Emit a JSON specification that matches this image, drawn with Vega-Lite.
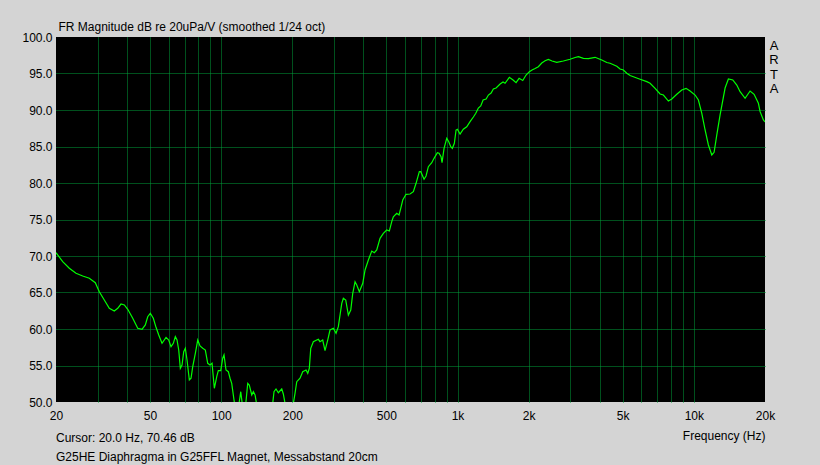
{
  "$schema": "https://vega.github.io/schema/vega-lite/v6.json",
  "description": "ARTA frequency response, G25HE diaphragm in G25FFL magnet, 20 cm distance.",
  "width": 709,
  "height": 365,
  "autosize": "none",
  "padding": {"left": 56, "top": 37, "right": 55, "bottom": 63},
  "background": "#d4d4d4",
  "config": {
    "view": {"fill": "#000000", "stroke": null},
    "font": "Liberation Sans"
  },
  "title": {
    "text": "Cursor: 20.0 Hz, 70.46 dB",
    "subtitle": "G25HE Diaphragma in G25FFL Magnet, Messabstand 20cm",
    "orient": "bottom",
    "anchor": "start",
    "frame": "group",
    "offset": -8,
    "fontSize": 12,
    "fontWeight": "normal",
    "color": "#000000",
    "subtitleFont": "Liberation Sans",
    "subtitleFontSize": 12,
    "subtitleColor": "#000000",
    "subtitlePadding": 7
  },
  "data": {
    "values": [
      {"freq": 20, "db": 70.46},
      {"freq": 21.35, "db": 69.22},
      {"freq": 22.77, "db": 68.32},
      {"freq": 24.3, "db": 67.63},
      {"freq": 25.95, "db": 67.26},
      {"freq": 27.67, "db": 66.95},
      {"freq": 29.33, "db": 66.34},
      {"freq": 30.5, "db": 65.11},
      {"freq": 32.02, "db": 63.97},
      {"freq": 33.62, "db": 62.84},
      {"freq": 35.3, "db": 62.47},
      {"freq": 36.49, "db": 62.84},
      {"freq": 37.68, "db": 63.42},
      {"freq": 38.92, "db": 63.29},
      {"freq": 40.23, "db": 62.7},
      {"freq": 42.24, "db": 61.47},
      {"freq": 44.35, "db": 60.1},
      {"freq": 46.24, "db": 59.96},
      {"freq": 47.75, "db": 60.55},
      {"freq": 48.88, "db": 61.68},
      {"freq": 50.13, "db": 62.15},
      {"freq": 51.62, "db": 61.47},
      {"freq": 53.0, "db": 60.23},
      {"freq": 54.41, "db": 59.18},
      {"freq": 56.19, "db": 58.04},
      {"freq": 58.43, "db": 58.86},
      {"freq": 59.98, "db": 58.49},
      {"freq": 61.34, "db": 57.58},
      {"freq": 62.73, "db": 58.04},
      {"freq": 63.97, "db": 58.95},
      {"freq": 65.03, "db": 58.49},
      {"freq": 66.12, "db": 57.12},
      {"freq": 67.16, "db": 54.62},
      {"freq": 68.28, "db": 55.07},
      {"freq": 69.42, "db": 56.89},
      {"freq": 70.51, "db": 57.36},
      {"freq": 71.69, "db": 55.75},
      {"freq": 73.32, "db": 53.01},
      {"freq": 74.54, "db": 53.25},
      {"freq": 75.79, "db": 54.84},
      {"freq": 77.73, "db": 56.67},
      {"freq": 79.57, "db": 58.49},
      {"freq": 81.37, "db": 57.67},
      {"freq": 83.54, "db": 57.36},
      {"freq": 85.68, "db": 57.12},
      {"freq": 87.71, "db": 55.3},
      {"freq": 89.7, "db": 55.07},
      {"freq": 91.47, "db": 55.3},
      {"freq": 93.54, "db": 51.88},
      {"freq": 95.76, "db": 53.47},
      {"freq": 97.24, "db": 54.29},
      {"freq": 99.55, "db": 54.29},
      {"freq": 101.5, "db": 55.99},
      {"freq": 102.8, "db": 56.44},
      {"freq": 104.8, "db": 54.38},
      {"freq": 107.2, "db": 54.15},
      {"freq": 109.0, "db": 53.25},
      {"freq": 110.8, "db": 52.56},
      {"freq": 113.3, "db": 50.27},
      {"freq": 116.1, "db": 48.0},
      {"freq": 119.0, "db": 49.8},
      {"freq": 121.0, "db": 51.41},
      {"freq": 122.5, "db": 50.0},
      {"freq": 125.6, "db": 48.0},
      {"freq": 129.5, "db": 52.56},
      {"freq": 131.5, "db": 52.33},
      {"freq": 134.7, "db": 50.96},
      {"freq": 136.8, "db": 51.41},
      {"freq": 139.1, "db": 50.96},
      {"freq": 141.1, "db": 49.8},
      {"freq": 151.8, "db": 47.0},
      {"freq": 165.2, "db": 49.8},
      {"freq": 167.3, "db": 51.41},
      {"freq": 170.6, "db": 51.78},
      {"freq": 174.5, "db": 51.27},
      {"freq": 180.4, "db": 51.78},
      {"freq": 183.2, "db": 51.1},
      {"freq": 186.3, "db": 49.8},
      {"freq": 193.7, "db": 47.5},
      {"freq": 202.0, "db": 49.8},
      {"freq": 205.3, "db": 51.19},
      {"freq": 208.8, "db": 52.78},
      {"freq": 215.6, "db": 53.25},
      {"freq": 221.3, "db": 54.15},
      {"freq": 228.6, "db": 54.38},
      {"freq": 232.4, "db": 53.93},
      {"freq": 236.0, "db": 54.62},
      {"freq": 239.3, "db": 57.36},
      {"freq": 245.4, "db": 58.26},
      {"freq": 253.7, "db": 58.49},
      {"freq": 257.7, "db": 58.59},
      {"freq": 261.9, "db": 58.26},
      {"freq": 268.9, "db": 58.49},
      {"freq": 275.0, "db": 57.03},
      {"freq": 282.3, "db": 58.49},
      {"freq": 288.7, "db": 59.86},
      {"freq": 298.2, "db": 60.1},
      {"freq": 306.2, "db": 59.41},
      {"freq": 313.1, "db": 60.32},
      {"freq": 323.7, "db": 63.52},
      {"freq": 328.8, "db": 64.21},
      {"freq": 336.5, "db": 63.97},
      {"freq": 345.2, "db": 61.92},
      {"freq": 353.4, "db": 62.6},
      {"freq": 360.3, "db": 64.89},
      {"freq": 368.5, "db": 66.48},
      {"freq": 374.6, "db": 66.03},
      {"freq": 384.2, "db": 65.11},
      {"freq": 397.2, "db": 66.26},
      {"freq": 406.2, "db": 68.08},
      {"freq": 419.5, "db": 69.45},
      {"freq": 433.6, "db": 70.68},
      {"freq": 444.7, "db": 70.45},
      {"freq": 455.2, "db": 70.82},
      {"freq": 470.1, "db": 72.42},
      {"freq": 485.5, "db": 73.11},
      {"freq": 501.8, "db": 73.56},
      {"freq": 514.6, "db": 73.42},
      {"freq": 526.8, "db": 74.7},
      {"freq": 535.1, "db": 75.38},
      {"freq": 553.1, "db": 75.85},
      {"freq": 565.6, "db": 75.62},
      {"freq": 575.1, "db": 76.53},
      {"freq": 586.5, "db": 77.67},
      {"freq": 605.6, "db": 78.45},
      {"freq": 629.7, "db": 78.49},
      {"freq": 650.3, "db": 78.81},
      {"freq": 667.6, "db": 79.96},
      {"freq": 689.4, "db": 81.55},
      {"freq": 698.9, "db": 81.55},
      {"freq": 721.7, "db": 80.51},
      {"freq": 735.9, "db": 80.96},
      {"freq": 752.6, "db": 82.23},
      {"freq": 777.9, "db": 82.78},
      {"freq": 795.5, "db": 83.38},
      {"freq": 821.5, "db": 84.15},
      {"freq": 835.3, "db": 84.07},
      {"freq": 851.7, "db": 83.6},
      {"freq": 860.0, "db": 82.78},
      {"freq": 877.0, "db": 84.75},
      {"freq": 900.4, "db": 86.12},
      {"freq": 918.1, "db": 85.66},
      {"freq": 936.2, "db": 84.97},
      {"freq": 950.9, "db": 84.75},
      {"freq": 969.6, "db": 85.44},
      {"freq": 985.8, "db": 87.26},
      {"freq": 998.4, "db": 87.36},
      {"freq": 1025, "db": 86.71},
      {"freq": 1058, "db": 87.36},
      {"freq": 1094, "db": 87.71},
      {"freq": 1130, "db": 88.4},
      {"freq": 1167, "db": 89.04},
      {"freq": 1195, "db": 89.55},
      {"freq": 1225, "db": 90.27},
      {"freq": 1254, "db": 90.55},
      {"freq": 1283, "db": 91.37},
      {"freq": 1321, "db": 91.51},
      {"freq": 1351, "db": 92.05},
      {"freq": 1387, "db": 92.33},
      {"freq": 1418, "db": 92.88},
      {"freq": 1456, "db": 93.01},
      {"freq": 1514, "db": 93.56},
      {"freq": 1558, "db": 93.84},
      {"freq": 1589, "db": 93.66},
      {"freq": 1657, "db": 94.48},
      {"freq": 1718, "db": 94.11},
      {"freq": 1769, "db": 93.74},
      {"freq": 1822, "db": 94.34},
      {"freq": 1888, "db": 94.04},
      {"freq": 1950, "db": 94.79},
      {"freq": 2014, "db": 95.25},
      {"freq": 2067, "db": 95.48},
      {"freq": 2129, "db": 95.68},
      {"freq": 2198, "db": 95.93},
      {"freq": 2272, "db": 96.44},
      {"freq": 2347, "db": 96.75},
      {"freq": 2423, "db": 96.92},
      {"freq": 2512, "db": 96.71},
      {"freq": 2630, "db": 96.53},
      {"freq": 2805, "db": 96.71},
      {"freq": 2994, "db": 96.95},
      {"freq": 3144, "db": 97.19},
      {"freq": 3247, "db": 97.3},
      {"freq": 3409, "db": 97.08},
      {"freq": 3579, "db": 97.05},
      {"freq": 3820, "db": 97.22},
      {"freq": 4077, "db": 96.85},
      {"freq": 4281, "db": 96.51},
      {"freq": 4421, "db": 96.4},
      {"freq": 4720, "db": 95.99},
      {"freq": 4874, "db": 95.62},
      {"freq": 5033, "db": 95.48},
      {"freq": 5203, "db": 95.03},
      {"freq": 5373, "db": 94.73},
      {"freq": 5548, "db": 94.56},
      {"freq": 5923, "db": 94.21},
      {"freq": 6322, "db": 93.88},
      {"freq": 6529, "db": 93.66},
      {"freq": 6855, "db": 92.97},
      {"freq": 7197, "db": 92.19},
      {"freq": 7432, "db": 92.05},
      {"freq": 7803, "db": 91.23},
      {"freq": 8066, "db": 91.51},
      {"freq": 8468, "db": 92.15},
      {"freq": 8891, "db": 92.74},
      {"freq": 9271, "db": 92.97},
      {"freq": 9640, "db": 92.6},
      {"freq": 10121, "db": 92.05},
      {"freq": 10452, "db": 91.37},
      {"freq": 10804, "db": 89.55},
      {"freq": 11157, "db": 87.26},
      {"freq": 11522, "db": 85.21},
      {"freq": 11910, "db": 83.84},
      {"freq": 12180, "db": 84.21},
      {"freq": 12505, "db": 86.58},
      {"freq": 12913, "db": 89.32},
      {"freq": 13557, "db": 93.01},
      {"freq": 13999, "db": 94.25},
      {"freq": 14613, "db": 94.11},
      {"freq": 15194, "db": 93.42},
      {"freq": 15691, "db": 92.51},
      {"freq": 16474, "db": 91.6},
      {"freq": 17296, "db": 92.6},
      {"freq": 17984, "db": 92.15},
      {"freq": 18754, "db": 90.92},
      {"freq": 19068, "db": 89.77},
      {"freq": 19690, "db": 88.63},
      {"freq": 20000, "db": 88.36}
    ]
  },
  "layer": [
    {
      "mark": {"type": "line", "color": "#00ff00", "strokeWidth": 1.2, "clip": true},
      "encoding": {
        "x": {
          "field": "freq",
          "type": "quantitative",
          "scale": {"type": "log", "domain": [20, 20000], "nice": false},
          "axis": {
            "values": [20, 30, 40, 50, 60, 70, 80, 90, 100, 200, 300, 400, 500, 600, 700, 800, 900, 1000, 2000, 3000, 4000, 5000, 6000, 7000, 8000, 9000, 10000, 20000],
            "labelExpr": "indexof([20, 50, 100, 200, 500, 1000, 2000, 5000, 10000, 20000], datum.value) >= 0 ? (datum.value >= 1000 ? (datum.value / 1000) + 'k' : '' + datum.value) : ''",
            "labelOverlap": false,
            "labelFlush": false,
            "labelPadding": 8,
            "labelFontSize": 12,
            "labelColor": "#000000",
            "ticks": false,
            "domain": false,
            "grid": true,
            "gridColor": "#00a03a",
            "gridDash": [1, 1],
            "gridWidth": 1,
            "gridOpacity": {"condition": {"test": "datum.value <= 20 || datum.value >= 20000", "value": 0}, "value": 1},
            "title": "Frequency (Hz)",
            "titleAnchor": "end",
            "titleFontSize": 12,
            "titleFontWeight": "normal",
            "titleColor": "#000000",
            "titlePadding": 9
          }
        },
        "y": {
          "field": "db",
          "type": "quantitative",
          "scale": {"domain": [50, 100], "nice": false, "zero": false},
          "axis": {
            "values": [50, 55, 60, 65, 70, 75, 80, 85, 90, 95, 100],
            "format": ".1f",
            "labelPadding": 4,
            "labelFontSize": 12,
            "labelColor": "#000000",
            "ticks": false,
            "domain": false,
            "grid": true,
            "gridColor": "#00a03a",
            "gridDash": [1, 1],
            "gridWidth": 1,
            "gridOpacity": {"condition": {"test": "datum.value <= 50 || datum.value >= 100", "value": 0}, "value": 1},
            "title": "FR Magnitude dB re 20uPa/V (smoothed 1/24 oct)",
            "titleAngle": 0,
            "titleAlign": "left",
            "titleBaseline": "alphabetic",
            "titleX": 2,
            "titleY": -7,
            "titleFontSize": 12,
            "titleFontWeight": "normal",
            "titleColor": "#000000"
          }
        }
      }
    },
    {
      "mark": {"type": "rule", "strokeOpacity": 0},
      "encoding": {
        "y": {
          "datum": 100,
          "type": "quantitative",
          "scale": {"domain": [50, 100], "nice": false, "zero": false},
          "axis": {
            "orient": "right",
            "labels": false,
            "ticks": false,
            "domain": false,
            "grid": false,
            "title": ["A", "R", "T", "A"],
            "titleAngle": 0,
            "titleAlign": "center",
            "titleBaseline": "top",
            "titleX": 8.5,
            "titleY": 2,
            "titleFontSize": 13,
            "titleLineHeight": 14.5,
            "titleFontWeight": "normal",
            "titleColor": "#000000"
          }
        }
      }
    }
  ],
  "resolve": {"scale": {"y": "independent"}, "axis": {"y": "independent"}}
}
